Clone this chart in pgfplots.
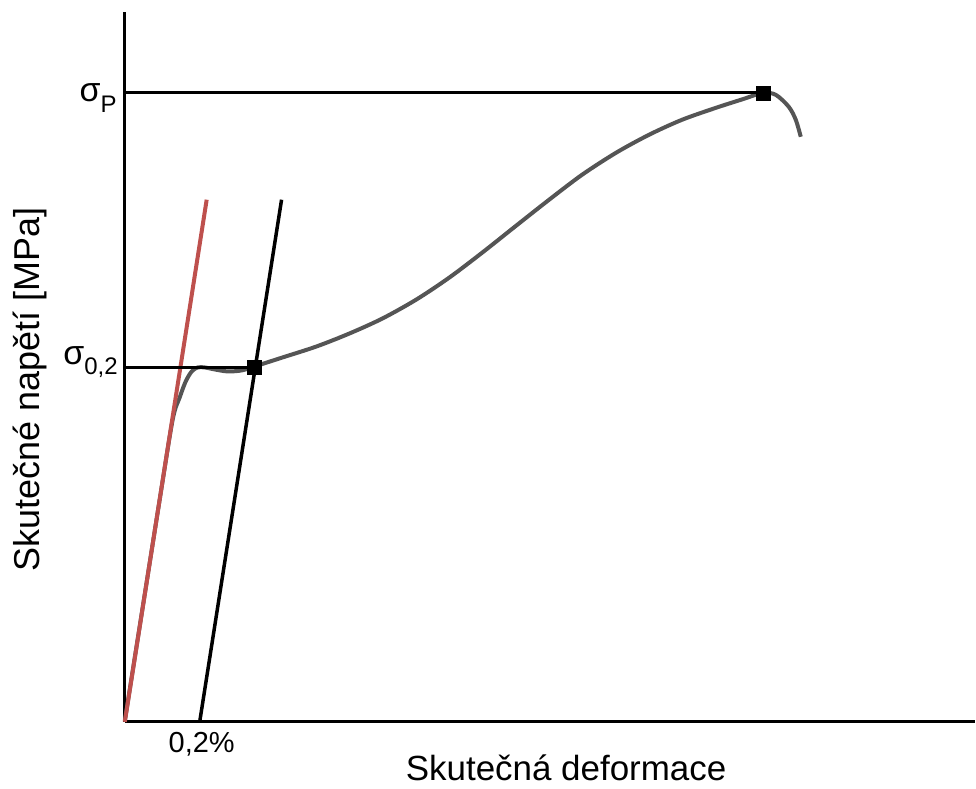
\documentclass[border=0pt]{standalone}
\usepackage{fontspec}
\setmainfont{Liberation Sans}
\usepackage{pgfplots}
\pgfplotsset{compat=1.18}
\definecolor{curvegray}{RGB}{85,85,85}
\definecolor{redline}{RGB}{190,80,77}
\begin{document}
\begin{tikzpicture}
\begin{axis}[
  scale only axis,
  width=851pt, height=711pt,
  xmin=0, xmax=851, ymin=0, ymax=711,
  axis x line=bottom, axis y line=left,
  axis line style={-, line width=3pt},
  xtick=\empty, ytick=\empty,
  clip=false,
]
\path (axis cs:-125,-67) rectangle (axis cs:851,723);
% gray stress-strain curve
\addplot[curvegray, line width=4pt, line join=round, smooth, tension=0.5] coordinates {
(0,1) (35,223) (48,303) (55,325) (61,341) (67,351) (73,355) (80,355)
(90,353) (103,351) (117,352) (130,356) (158,365) (192,376) (225,389)
(258,404) (292,423) (325,445) (358,470) (392,497) (425,523) (458,548)
(492,570) (525,588) (558,603) (592,615) (620,624) (639,630)
(652,628) (665,616) (672,603) (677,586)
};
% red elastic line
\addplot[redline, line width=4pt] coordinates {(0,0) (82,523)};
% black offset line
\addplot[black, line width=3.5pt] coordinates {(75,0) (157,523)};
% horizontal lines
\addplot[black, line width=3pt] coordinates {(0,355) (130,355)};
\addplot[black, line width=3pt] coordinates {(0,630) (639,630)};
% markers
\addplot[only marks, mark=square*, mark size=7pt, black] coordinates {(130,355) (639,630)};
% labels
\node[anchor=base east, inner sep=0pt] at (axis cs:-8,621)
  {\fontsize{34}{36}\selectfont σ\raisebox{-0.3em}{\fontsize{24}{26}\selectfont P}};
\node[anchor=base east, inner sep=0pt] at (axis cs:-7,358)
  {\fontsize{34}{36}\selectfont σ\raisebox{-0.3em}{\fontsize{24}{26}\selectfont 0,2}};
\node[inner sep=0pt] at (axis cs:77,-22) {\fontsize{29}{32}\selectfont 0,2\%};
\node[inner sep=0pt] at (axis cs:442,-46) {\fontsize{35}{38}\selectfont Skutečná deformace};
\node[inner sep=0pt, rotate=90] at (axis cs:-95,333) {\fontsize{36}{40}\selectfont Skutečné napětí [MPa]};
\end{axis}
\end{tikzpicture}
\end{document}
